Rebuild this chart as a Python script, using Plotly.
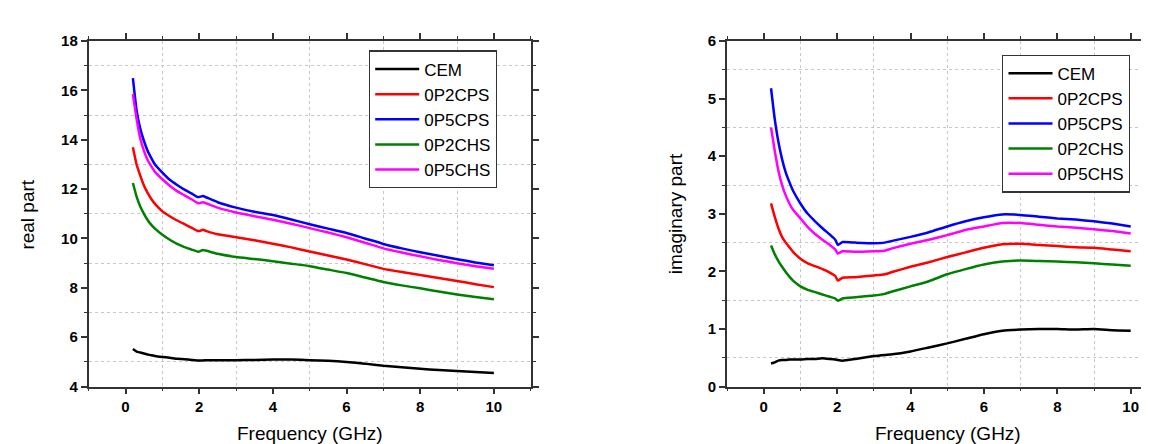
import plotly.graph_objects as go

# ---------------- data ----------------
series_names = ["CEM", "0P2CPS", "0P5CPS", "0P2CHS", "0P5CHS"]
series_colors = ["#000000", "#ff0000", "#0000ff", "#008000", "#ff00ff"]

freq_real = [0.2, 0.3, 0.4, 0.5, 0.6, 0.7, 0.8, 1.0, 1.2, 1.4, 1.6, 1.8, 1.95, 2.0, 2.1, 2.2,
             2.5, 3.0, 3.5, 4.0, 4.5, 5.0, 5.5, 6.0, 6.5, 7.0, 7.5, 8.0, 8.5, 9.0, 9.5, 10.0]

real_cem = [5.52, 5.42, 5.38, 5.34, 5.30, 5.27, 5.24, 5.20, 5.17, 5.13, 5.11, 5.08, 5.06, 5.06, 5.06, 5.07,
            5.07, 5.07, 5.08, 5.10, 5.10, 5.07, 5.05, 5.00, 4.93, 4.84, 4.78, 4.72, 4.67, 4.63, 4.59, 4.55]
real_0p2cps = [13.70, 13.00, 12.55, 12.15, 11.85, 11.60, 11.40, 11.10, 10.90, 10.73, 10.58, 10.43, 10.31, 10.30, 10.35, 10.30,
               10.17, 10.05, 9.93, 9.79, 9.64, 9.47, 9.31, 9.15, 8.96, 8.77, 8.64, 8.52, 8.40, 8.28, 8.15, 8.03]
real_0p5cps = [16.50, 15.20, 14.45, 13.95, 13.55, 13.26, 13.00, 12.67, 12.38, 12.17, 11.98, 11.82, 11.68, 11.68, 11.72, 11.66,
               11.47, 11.25, 11.08, 10.95, 10.77, 10.58, 10.40, 10.22, 10.00, 9.78, 9.60, 9.44, 9.30, 9.16, 9.03, 8.92]
real_0p2chs = [12.25, 11.70, 11.30, 11.00, 10.75, 10.55, 10.40, 10.15, 9.95, 9.78, 9.65, 9.55, 9.47, 9.47, 9.53, 9.50,
               9.38, 9.25, 9.17, 9.08, 8.98, 8.88, 8.74, 8.60, 8.42, 8.24, 8.10, 7.98, 7.85, 7.73, 7.63, 7.54]
real_0p5chs = [15.85, 14.85, 14.05, 13.55, 13.18, 12.92, 12.70, 12.40, 12.14, 11.92, 11.75, 11.58, 11.44, 11.43, 11.47, 11.42,
               11.25, 11.05, 10.90, 10.76, 10.60, 10.42, 10.24, 10.05, 9.83, 9.60, 9.43, 9.28, 9.13, 9.00, 8.88, 8.77]

freq_imag = [0.2, 0.3, 0.4, 0.5, 0.6, 0.7, 0.8, 1.0, 1.2, 1.4, 1.6, 1.8, 1.95, 2.02, 2.15, 2.5,
             3.0, 3.3, 3.5, 4.0, 4.5, 5.0, 5.5, 6.0, 6.5, 7.0, 7.5, 8.0, 8.5, 9.0, 9.5, 10.0]

imag_cem = [0.40, 0.42, 0.45, 0.46, 0.46, 0.47, 0.47, 0.47, 0.48, 0.48, 0.49, 0.48, 0.47, 0.46, 0.45, 0.48,
            0.53, 0.55, 0.56, 0.61, 0.68, 0.75, 0.83, 0.91, 0.97, 0.99, 1.00, 1.00, 0.99, 1.00, 0.98, 0.97]
imag_0p2cps = [3.18, 2.95, 2.75, 2.60, 2.50, 2.42, 2.34, 2.22, 2.14, 2.09, 2.04, 1.98, 1.92, 1.84, 1.89, 1.90,
               1.93, 1.95, 1.99, 2.08, 2.16, 2.25, 2.33, 2.41, 2.47, 2.48, 2.46, 2.44, 2.42, 2.41, 2.38, 2.35]
imag_0p5cps = [5.18, 4.65, 4.25, 3.95, 3.72, 3.55, 3.40, 3.18, 3.00, 2.87, 2.75, 2.64, 2.55, 2.46, 2.51, 2.50,
               2.49, 2.50, 2.53, 2.60, 2.68, 2.78, 2.87, 2.94, 2.99, 2.98, 2.95, 2.92, 2.90, 2.87, 2.83, 2.78]
imag_0p2chs = [2.45, 2.30, 2.18, 2.08, 1.99, 1.91, 1.84, 1.74, 1.68, 1.64, 1.60, 1.56, 1.53, 1.49, 1.53, 1.55,
               1.58, 1.61, 1.65, 1.74, 1.83, 1.95, 2.04, 2.12, 2.17, 2.19, 2.18, 2.17, 2.16, 2.14, 2.12, 2.10]
imag_0p5chs = [4.50, 4.10, 3.75, 3.50, 3.32, 3.18, 3.07, 2.92, 2.77, 2.65, 2.55, 2.46, 2.38, 2.31, 2.35, 2.34,
               2.35, 2.36, 2.40, 2.48, 2.55, 2.63, 2.72, 2.78, 2.84, 2.84, 2.81, 2.78, 2.76, 2.73, 2.70, 2.66]

real_series = [real_cem, real_0p2cps, real_0p5cps, real_0p2chs, real_0p5chs]
imag_series = [imag_cem, imag_0p2cps, imag_0p5cps, imag_0p2chs, imag_0p5chs]

x_title = "Frequency (GHz)"
y_title_left = "real part"
y_title_right = "imaginary part"

# ---------------- figure ----------------
W, H = 1149, 444
fig = go.Figure()

for name, col, ys in zip(series_names, series_colors, real_series):
    fig.add_trace(go.Scatter(x=freq_real, y=ys, name=name, mode="lines",
                             line=dict(color=col, width=2.5, shape="spline", smoothing=0.4),
                             xaxis="x", yaxis="y", legend="legend"))
for name, col, ys in zip(series_names, series_colors, imag_series):
    fig.add_trace(go.Scatter(x=freq_imag, y=ys, name=name, mode="lines",
                             line=dict(color=col, width=2.5, shape="spline", smoothing=0.4),
                             xaxis="x2", yaxis="y2", legend="legend2"))

axcol = "#333333"
tickfont = dict(family="Liberation Sans, Arial, sans-serif", size=15, color="black", weight="bold")
grid = dict(showgrid=True, gridcolor="#c8c8c8", griddash="dot", gridwidth=1)


def xax(domain, rng, anchor):
    return dict(domain=domain, range=rng, anchor=anchor, tick0=0, dtick=2,
                showline=True, linecolor=axcol, linewidth=1.8, mirror="allticks",
                ticks="outside", ticklen=6, tickwidth=1.5, tickcolor=axcol,
                showgrid=False, zeroline=False, tickfont=tickfont,
                minor=dict(tick0=0, dtick=1, ticks="outside", ticklen=3, tickwidth=1.2,
                           tickcolor=axcol, **grid))


def yax(domain, rng, anchor, dt, mdt, mirror):
    return dict(domain=domain, range=rng, anchor=anchor, tick0=0, dtick=dt,
                showline=True, linecolor=axcol, linewidth=1.8, mirror=mirror,
                ticks="outside", ticklen=6, tickwidth=1.5, tickcolor=axcol,
                showgrid=False, zeroline=False, tickfont=tickfont,
                minor=dict(tick0=0, dtick=mdt, ticks="outside", ticklen=3, tickwidth=1.2,
                           tickcolor=axcol, **grid))


ydom = [1 - 384.3 / H, 1 - 25 / H]
legend_common = dict(xanchor="left", yanchor="top", bgcolor="white", bordercolor=axcol,
                     borderwidth=1.2, font=dict(size=17, color="black"),
                     tracegroupgap=0, itemwidth=44)
fig.update_layout(
    width=W, height=H,
    margin=dict(l=0, r=0, t=0, b=0),
    paper_bgcolor="white", plot_bgcolor="white",
    font=dict(family="Liberation Sans, Arial, sans-serif", color="black"),
    xaxis=xax([80.7 / W, 522.7 / W], [-1, 11], "y"),
    yaxis=yax(ydom, [4, 18], "x", 2, 1, "allticks"),
    xaxis2=xax([719 / W, 1.0], [-1, (W - 719) / 36.7 - 1], "y2"),
    yaxis2=yax(ydom, [0, 6], "x2", 1, 0.5, False),
    legend=dict(x=361 / W, y=1 - 34.7 / H, **legend_common),
    legend2=dict(x=994.3 / W, y=1 - 39 / H, **legend_common),
    showlegend=True,
)

ann_font = dict(family="Liberation Sans, Arial, sans-serif", size=19, color="black")
fig.add_annotation(text=x_title, x=301.7 / W, y=1 - 433 / H, xref="paper", yref="paper",
                   xanchor="center", yanchor="middle", showarrow=False, font=ann_font)
fig.add_annotation(text=x_title, x=939.5 / W, y=1 - 433 / H, xref="paper", yref="paper",
                   xanchor="center", yanchor="middle", showarrow=False, font=ann_font)
fig.add_annotation(text=y_title_left, x=19.5 / W, y=1 - 206 / H, xref="paper", yref="paper",
                   xanchor="center", yanchor="middle", textangle=-90, showarrow=False, font=ann_font)
fig.add_annotation(text=y_title_right, x=667 / W, y=1 - 205 / H, xref="paper", yref="paper",
                   xanchor="center", yanchor="middle", textangle=-90, showarrow=False, font=ann_font)

fig.write_html("out.html")
